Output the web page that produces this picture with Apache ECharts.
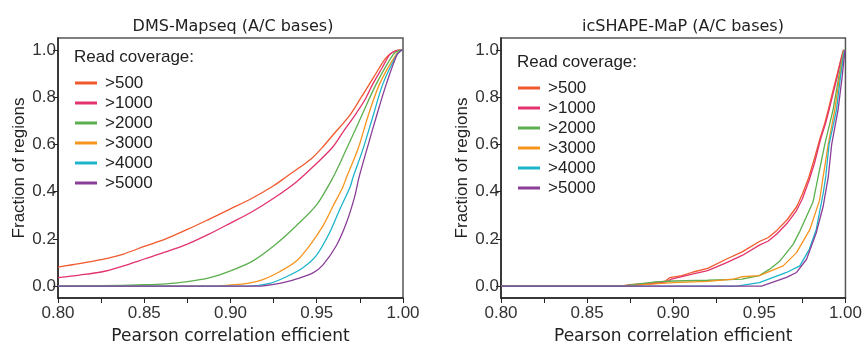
<!DOCTYPE html>
<html>
<head>
<meta charset="utf-8">
<script src="https://cdn.jsdelivr.net/npm/echarts@6/dist/echarts.min.js"></script>
<style>html,body{margin:0;padding:0;background:#fff}#c{width:865px;height:350px}</style>
</head>
<body>
<div id="c"></div>
<script>
// ---- data ----
const seriesNames = ['>500', '>1000', '>2000', '>3000', '>4000', '>5000'];
const seriesColors = ['#F0592E', '#E2336C', '#5BAF4E', '#F7941E', '#1CB4CB', '#8A3E98'];
const panelTitles = ['DMS-Mapseq (A/C bases)', 'icSHAPE-MaP (A/C bases)'];
const legendTitle = 'Read coverage:';
const xAxisName = 'Pearson correlation efficient';
const yAxisName = 'Fraction of regions';
const xTickValues = [0.8, 0.825, 0.85, 0.875, 0.9, 0.925, 0.95, 0.975, 1.0];
const xLabelValues = [0.8, 0.85, 0.9, 0.95, 1.0];
const yLabelValues = [0, 0.2, 0.4, 0.6, 0.8, 1.0];

// DMS-Mapseq curves: [correlation, fraction]
const dms500 = [[0.80,0.081],[0.8125,0.095],[0.825,0.112],[0.8375,0.135],[0.85,0.168],[0.8625,0.2],[0.875,0.24],[0.8875,0.283],[0.90,0.327],[0.9125,0.372],[0.925,0.425],[0.9324,0.463],[0.94,0.502],[0.947,0.54],[0.9536,0.59],[0.96,0.645],[0.969,0.722],[0.975,0.79],[0.9807,0.857],[0.986,0.92],[0.990,0.965],[0.994,0.99],[0.997,0.998],[1.0,1.0]];
const dms1000 = [[0.80,0.036],[0.8125,0.047],[0.825,0.06],[0.8375,0.085],[0.85,0.115],[0.8625,0.145],[0.875,0.178],[0.8875,0.22],[0.90,0.267],[0.9125,0.315],[0.925,0.372],[0.938,0.44],[0.95,0.52],[0.9594,0.59],[0.965,0.65],[0.972,0.722],[0.978,0.79],[0.9826,0.857],[0.988,0.925],[0.9925,0.982],[0.996,0.997],[1.0,1.0]];
const dms2000 = [[0.80,0],[0.825,0.002],[0.85,0.006],[0.8625,0.01],[0.875,0.019],[0.8875,0.035],[0.90,0.065],[0.9125,0.105],[0.925,0.17],[0.938,0.255],[0.95,0.345],[0.9594,0.46],[0.9672,0.58],[0.9759,0.719],[0.9846,0.857],[0.9943,0.98],[0.998,0.998],[1.0,1.0]];
const dms3000 = [[0.80,0],[0.89,0],[0.90,0.005],[0.91,0.012],[0.9188,0.028],[0.9285,0.061],[0.938,0.105],[0.9459,0.172],[0.9536,0.255],[0.9594,0.338],[0.9652,0.421],[0.9672,0.46],[0.9739,0.58],[0.9797,0.719],[0.9865,0.857],[0.996,0.98],[0.999,0.998],[1.0,1.0]];
const dms4000 = [[0.80,0],[0.91,0],[0.9227,0.012],[0.9324,0.04],[0.942,0.078],[0.9498,0.13],[0.9575,0.227],[0.9633,0.324],[0.9694,0.421],[0.971,0.46],[0.9768,0.58],[0.9826,0.719],[0.9884,0.857],[0.9965,0.98],[0.999,0.998],[1.0,1.0]];
const dms5000 = [[0.80,0],[0.915,0],[0.9285,0.012],[0.938,0.03],[0.9478,0.056],[0.9536,0.09],[0.9614,0.172],[0.9672,0.268],[0.972,0.379],[0.9745,0.46],[0.9791,0.58],[0.9846,0.719],[0.9904,0.857],[0.9966,0.98],[0.9992,0.998],[1.0,1.0]];

// icSHAPE-MaP curves: [correlation, fraction]
const ic500 = [[0.80,0],[0.869,0],[0.875,0.006],[0.885,0.012],[0.895,0.02],[0.898,0.036],[0.905,0.045],[0.9116,0.06],[0.92,0.075],[0.931,0.115],[0.94,0.145],[0.9503,0.19],[0.955,0.205],[0.96,0.235],[0.966,0.28],[0.9716,0.335],[0.975,0.39],[0.9787,0.46],[0.982,0.54],[0.985,0.62],[0.988,0.69],[0.99,0.746],[0.9925,0.82],[0.9948,0.885],[0.997,0.95],[0.9986,0.996],[0.999,1.0]];
const ic1000 = [[0.80,0],[0.87,0],[0.88,0.006],[0.89,0.012],[0.896,0.018],[0.899,0.03],[0.9116,0.052],[0.92,0.066],[0.931,0.1],[0.94,0.13],[0.9503,0.175],[0.955,0.19],[0.96,0.22],[0.966,0.265],[0.9716,0.32],[0.975,0.37],[0.979,0.45],[0.982,0.52],[0.9855,0.62],[0.9885,0.69],[0.9905,0.746],[0.993,0.82],[0.995,0.88],[0.9972,0.95],[0.9988,0.995],[0.999,1.0]];
const ic2000 = [[0.80,0],[0.87,0],[0.88,0.01],[0.89,0.018],[0.90,0.022],[0.92,0.025],[0.94,0.03],[0.95,0.045],[0.956,0.072],[0.962,0.107],[0.9696,0.177],[0.9735,0.232],[0.9774,0.295],[0.9812,0.357],[0.9841,0.461],[0.988,0.6],[0.9928,0.746],[0.996,0.88],[0.9988,0.99],[0.9995,1.0]];
const ic3000 = [[0.80,0],[0.873,0],[0.885,0.008],[0.90,0.015],[0.92,0.02],[0.935,0.03],[0.94,0.04],[0.95,0.045],[0.9638,0.086],[0.9716,0.142],[0.9793,0.239],[0.985,0.364],[0.987,0.461],[0.99,0.6],[0.9938,0.746],[0.9965,0.88],[0.999,0.99],[0.9995,1.0]];
const ic4000 = [[0.80,0],[0.937,0],[0.95,0.015],[0.9658,0.058],[0.9735,0.086],[0.979,0.156],[0.983,0.239],[0.987,0.39],[0.9885,0.46],[0.9905,0.6],[0.9948,0.746],[0.997,0.88],[0.9992,0.99],[0.9996,1.0]];
const ic5000 = [[0.80,0],[0.9513,0],[0.9658,0.0375],[0.9716,0.058],[0.9774,0.114],[0.983,0.225],[0.987,0.336],[0.99,0.461],[0.992,0.6],[0.9957,0.746],[0.998,0.88],[0.9996,0.99],[1.0,1.0]];

const dmsData = [dms500, dms1000, dms2000, dms3000, dms4000, dms5000];
const icData = [ic500, ic1000, ic2000, ic3000, ic4000, ic5000];

// ---- chart ----
const chart = echarts.init(document.getElementById('c'), null, {renderer: 'canvas'});
const tickFont = {fontFamily: 'Liberation Sans, Arial, sans-serif', fontSize: 17, color: '#333'};
const grids = [
  {left: 58, right: 462, top: 38, bottom: 47},
  {left: 501, right: 19, top: 38, bottom: 47}
];
function makeX(i) {
  return {
    type: 'value', gridIndex: i, min: 0.8, max: 1.0,
    name: xAxisName, nameLocation: 'middle', nameGap: 30,
    nameTextStyle: {fontFamily: 'DejaVu Sans, Verdana, sans-serif', fontSize: 17, color: '#222'},
    axisLine: {show: true, onZero: false, lineStyle: {color: '#222', width: 1.5}},
    axisTick: {show: true, length: 5, customValues: xTickValues, lineStyle: {color: '#222', width: 1}},
    axisLabel: Object.assign({customValues: xLabelValues, margin: 7, formatter: v => v.toFixed(2)}, tickFont),
    splitLine: {show: false}
  };
}
function makeY(i) {
  return {
    type: 'value', gridIndex: i, min: -0.05, max: 1.05,
    name: yAxisName, nameLocation: 'middle', nameGap: 30,
    nameTextStyle: {fontFamily: 'Liberation Sans, Arial, sans-serif', fontSize: 17, color: '#222'},
    axisLine: {show: true, onZero: false, lineStyle: {color: '#222', width: 1.5}},
    axisTick: {show: true, length: 5, customValues: yLabelValues, lineStyle: {color: '#222', width: 1}},
    axisLabel: Object.assign({customValues: yLabelValues, margin: 2, formatter: v => v.toFixed(1)}, tickFont),
    splitLine: {show: false}
  };
}
const series = [];
[dmsData, icData].forEach((set, gi) => {
  set.forEach((d, k) => {
    series.push({
      name: seriesNames[k], type: 'line', xAxisIndex: gi, yAxisIndex: gi,
      data: d, showSymbol: false, symbol: 'none',
      smooth: gi === 0 ? 0.3 : false,
      lineStyle: {color: seriesColors[k], width: 1.3},
      itemStyle: {color: seriesColors[k]},
      emphasis: {disabled: true}, animation: false
    });
  });
});
function makeLegend(left, top) {
  return {
    orient: 'vertical', left: left, top: top, itemWidth: 22, itemHeight: 3, itemGap: 3,
    icon: 'rect', data: seriesNames, selectedMode: false,
    textStyle: {fontFamily: 'Liberation Sans, Arial, sans-serif', fontSize: 17, color: '#222', lineHeight: 17, padding: [0, 0, 0, 3]}
  };
}
chart.setOption({
  animation: false,
  grid: grids.map(g => Object.assign({show: true, borderColor: '#555', borderWidth: 1.5, backgroundColor: 'transparent'}, g)),
  xAxis: [makeX(0), makeX(1)],
  yAxis: [makeY(0), makeY(1)],
  legend: [makeLegend(70, 69.5), makeLegend(513, 74.5)],
  graphic: [
    {type: 'text', x: 233, y: 27, style: {text: panelTitles[0], font: '16px "DejaVu Sans", Verdana, sans-serif', fill: '#222', textAlign: 'center', textVerticalAlign: 'middle'}},
    {type: 'text', x: 683, y: 27, style: {text: panelTitles[1], font: '16px "DejaVu Sans", Verdana, sans-serif', fill: '#222', textAlign: 'center', textVerticalAlign: 'middle'}},
    {type: 'text', x: 74, y: 57, style: {text: legendTitle, font: '17px "Liberation Sans", Arial, sans-serif', fill: '#222', textAlign: 'left', textVerticalAlign: 'middle'}},
    {type: 'text', x: 517, y: 62, style: {text: legendTitle, font: '17px "Liberation Sans", Arial, sans-serif', fill: '#222', textAlign: 'left', textVerticalAlign: 'middle'}}
  ],
  series: series
});
</script>
</body>
</html>
